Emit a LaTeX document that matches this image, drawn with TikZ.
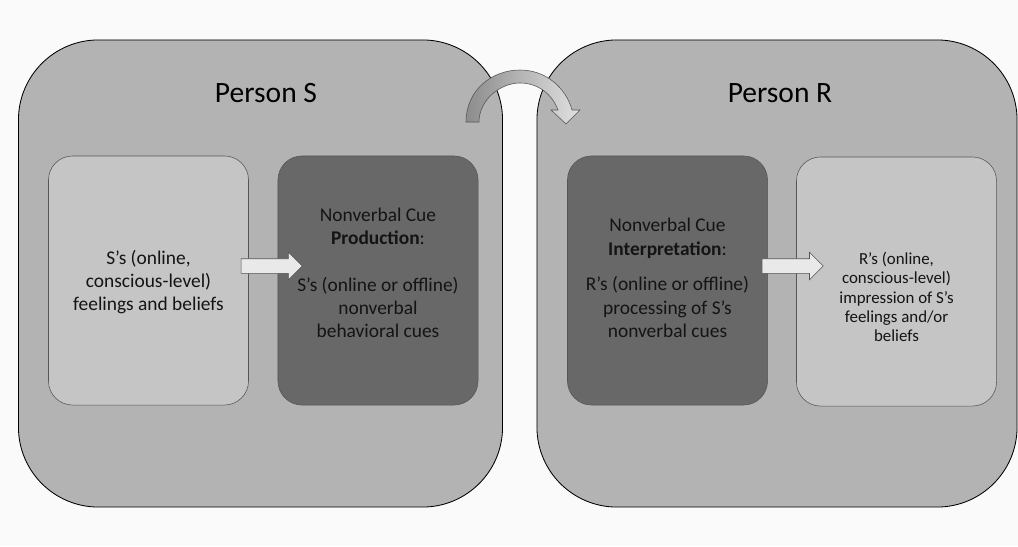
\documentclass[tikz,border=0pt]{standalone}
\usepackage{fontspec}
\setmainfont{Carlito}
\usetikzlibrary{shapes.arrows}

\definecolor{pagebg}{HTML}{FAFAFA}
\definecolor{outerfill}{HTML}{B3B3B3}
\definecolor{lightfill}{HTML}{C5C5C5}
\definecolor{darkfill}{HTML}{686868}
\definecolor{arrowfill}{HTML}{E9E9E9}
\definecolor{edgegray}{HTML}{555555}

\begin{document}
\begin{tikzpicture}[x=0.025cm, y=-0.025cm,
    person/.style={draw=black, fill=outerfill, line width=0.6pt, rounded corners=2cm, minimum width=12.1cm, minimum height=11.675cm},
    lbox/.style={draw=edgegray, fill=lightfill, rounded corners=0.6cm, minimum width=5cm, minimum height=6.225cm},
    dbox/.style={lbox, fill=darkfill},
    boxtext/.style={align=center, text=black!92, font=\fontsize{13.8}{16.5}\selectfont},
    title/.style={font=\fontsize{21}{25}\selectfont, anchor=base},
    blockarrow/.style={single arrow, draw=edgegray, fill=arrowfill, inner xsep=0pt, inner ysep=0.175cm, minimum height=1.525cm, single arrow head extend=0.16cm}]
    \fill[pagebg] (0,0) rectangle (1018,546);
    \useasboundingbox (0,0) rectangle (1018,546);

    \node[person] (S) at (260.5,273.5) {};
    \node[person, minimum width=12cm] (R) at (777,273.5) {};
    \node[title] (stitle) at (266,102) {Person S};
    \node[title] (rtitle) at (780,102) {Person R};

    \node[lbox] (sfeel) at (148.5,280.5) {};
    \node[dbox] (scue) at (378,280.5) {};
    \node[dbox] (rcue) at (667.5,280.5) {};
    \node[lbox] (rfeel) at (896.5,281.5) {};

    \node[boxtext] (sfeeltext) at (148.5,282) {S’s (online,\\conscious-level)\\feelings and beliefs};
    \node[boxtext] (scuetext) at (378,273) {Nonverbal Cue\\\textbf{Production}:\\[16.5pt]S’s (online or offline)\\nonverbal\\behavioral cues};
    \node[boxtext] (rcuetext) at (667.5,278) {Nonverbal Cue\\\textbf{Interpretation}:\\[9pt]R’s (online or offline)\\processing of S’s\\nonverbal cues};
    \node[boxtext, font=\fontsize{12}{13.7}\selectfont] (rfeeltext) at (896.5,297) {R’s (online,\\conscious-level)\\impression of S’s\\feelings and/or\\beliefs};

    \node[blockarrow] (a1) at (268,266) {};
    \node[blockarrow] (a2) at (789,266) {};

    % curved arrow from S over to R
    \draw[edgegray, line width=0.4pt, left color=black!45, right color=black!12]
      (466,122) .. controls (466,90) and (492,70) .. (520,70)
      .. controls (546,70) and (566,88) .. (572,110)
      -- (580,110) -- (566,124) -- (551,110) -- (558,110)
      .. controls (552,94) and (538,83) .. (520,83)
      .. controls (500,83) and (479,100) .. (479,122) -- cycle;
\end{tikzpicture}
\end{document}
